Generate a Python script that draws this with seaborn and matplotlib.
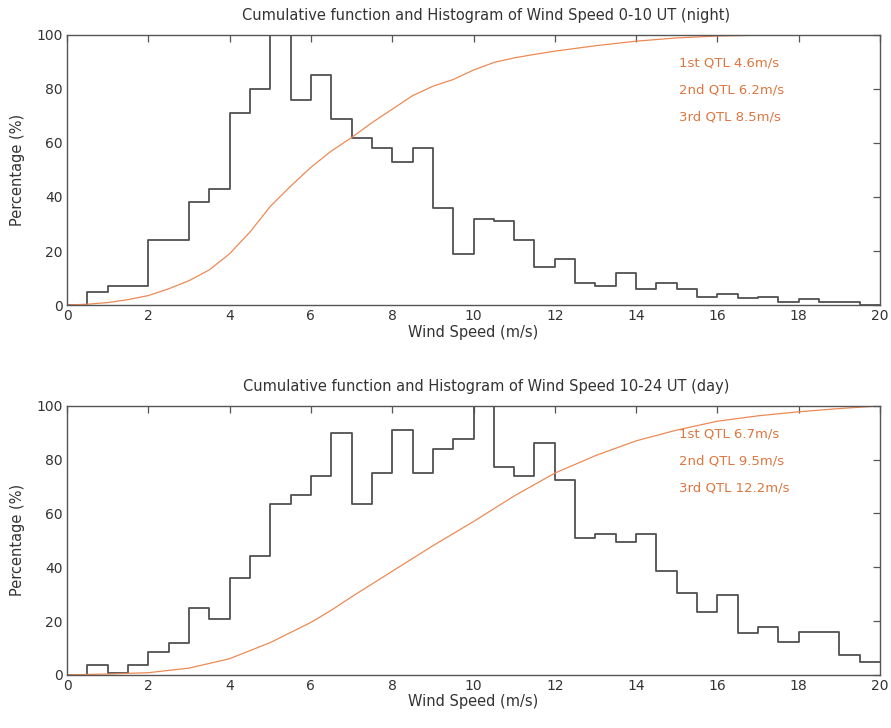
import numpy as np
import pandas as pd
import matplotlib
matplotlib.use("Agg")
import matplotlib.pyplot as plt
import seaborn as sns

# bins of 0.5 m/s from 0 to 20
bin_edges = np.arange(0, 20.01, 0.5)
bin_centers = bin_edges[:-1] + 0.25

# histogram heights (% of the max bin)
night_hist = [0, 5, 7, 7, 24, 24, 38, 43, 71, 80,
              100, 76, 85, 69, 62, 58, 53, 58, 36, 19,
              32, 31, 24, 14, 17, 8, 7, 12, 6, 8,
              6, 3, 4, 2.5, 3, 1.2, 2.2, 1.2, 1.2, 0]
day_hist = [0, 3.7, 0.6, 3.7, 8.4, 11.8, 24.8, 20.7, 36, 44,
            63.4, 67, 74, 90, 63.4, 75, 91, 75, 84, 87.6,
            100, 77.4, 74, 86.3, 72.4, 51, 52.5, 49.3, 52.5, 38.5,
            30.4, 23.4, 29.6, 15.5, 17.8, 12.4, 15.8, 15.8, 7.5, 4.6]

# cumulative curves (%)
night_cdf_x = [0, 0.5, 1, 1.5, 2, 2.5, 3, 3.5, 4, 4.5, 5, 5.5, 6, 6.5, 7, 7.5,
               8, 8.5, 9, 9.5, 10, 10.5, 11, 11.5, 12, 13, 14, 15, 16, 17, 18, 20]
night_cdf_y = [0, 0.3, 0.9, 2, 3.5, 6, 9, 13, 19, 27, 36.5, 44, 51, 57, 62, 67.5,
               72.5, 77.5, 81, 83.5, 87, 89.8, 91.5, 92.8, 94, 96, 97.7, 98.9, 99.6, 99.9, 100, 100]
day_cdf_x = [0, 1, 2, 3, 4, 5, 6, 6.5, 7, 8, 9, 10, 11, 12, 13, 14, 15, 16, 17, 18, 19, 20]
day_cdf_y = [0, 0.3, 0.8, 2.5, 6, 12, 19.5, 24, 29, 38.5, 48, 57, 66.5, 75, 81.5, 87,
             91, 94.3, 96.3, 97.8, 99, 100]

night_qtl = ["1st QTL 4.6m/s", "2nd QTL 6.2m/s", "3rd QTL 8.5m/s"]
day_qtl = ["1st QTL 6.7m/s", "2nd QTL 9.5m/s", "3rd QTL 12.2m/s"]

titles = ["Cumulative function and Histogram of Wind Speed 0-10 UT (night)",
          "Cumulative function and Histogram of Wind Speed 10-24 UT (day)"]

sns.set_style("white")
plt.rcParams["font.family"] = ["DejaVu Sans"]
plt.rcParams["xtick.direction"] = "in"
plt.rcParams["ytick.direction"] = "in"
plt.rcParams["xtick.top"] = True
plt.rcParams["ytick.right"] = True

spine_col = "#555555"
hist_col = "#505050"
cdf_col = "#ec8a55"
txt_col = "#dd7640"

fig = plt.figure(figsize=(8.91, 7.28), dpi=100)
ax_top = fig.add_axes([0.0752, 0.581, 0.9125, 0.371])
ax_bot = fig.add_axes([0.0752, 0.073, 0.9125, 0.3695])

panels = [
    (ax_top, night_hist, night_cdf_x, night_cdf_y, night_qtl, titles[0]),
    (ax_bot, day_hist, day_cdf_x, day_cdf_y, day_qtl, titles[1]),
]

for ax, hist, cx, cy, qtl, title in panels:
    df = pd.DataFrame({"speed": bin_centers, "pct": hist})
    sns.histplot(data=df, x="speed", weights="pct", binwidth=0.5, binrange=(0, 20),
                 element="step", fill=False, color=hist_col, linewidth=1.3, ax=ax)
    sns.lineplot(x=cx, y=cy, color=cdf_col, linewidth=0.9, ax=ax)

    for i, t in enumerate(qtl):
        ax.text(15.05, 89.5 - 10 * i, t, color=txt_col, fontsize=9.5, va="center")

    ax.set_xlim(0, 20)
    ax.set_ylim(0, 100)
    ax.set_xticks(np.arange(0, 21, 2))
    ax.set_yticks(np.arange(0, 101, 20))
    ax.set_title(title, fontsize=10.5, color="#333333", pad=11, x=0.515)
    ax.set_xlabel("Wind Speed (m/s)", fontsize=10.5, color="#333333", labelpad=1)
    ax.set_ylabel("Percentage (%)", fontsize=10.5, color="#333333", labelpad=8)
    ax.tick_params(length=5, width=0.9, color=spine_col, labelsize=10,
                   labelcolor="#333333", pad=3)
    for s in ax.spines.values():
        s.set_visible(True)
        s.set_color(spine_col)
        s.set_linewidth(1.0)

fig.savefig("out.png", dpi=100, facecolor="white")
